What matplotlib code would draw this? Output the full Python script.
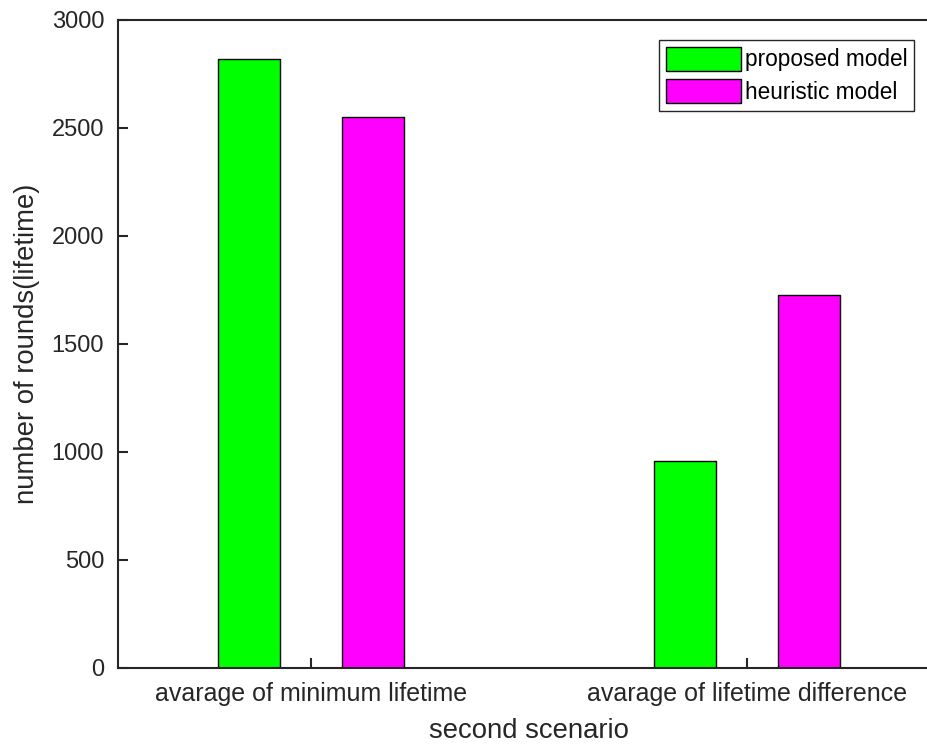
import numpy as np
import matplotlib
matplotlib.use("Agg")
import matplotlib.pyplot as plt

categories = ["avarage of minimum lifetime", "avarage of lifetime difference"]
series_names = ["proposed model", "heuristic model"]
proposed = [2820, 958]
heuristic = [2553, 1727]

plt.rcParams["font.family"] = ["Liberation Sans", "DejaVu Sans"]
ink = "#262626"

fig = plt.figure(figsize=(9.28, 7.49), dpi=100)
ax = fig.add_axes([118 / 928, 81 / 749, 822 / 928, 648 / 749])

x = np.arange(1, len(categories) + 1)
w = 0.1425
ax.bar(x - w, proposed, w, color="#00ff00", edgecolor="black", linewidth=1,
       label=series_names[0])
ax.bar(x + w, heuristic, w, color="#ff00ff", edgecolor="black", linewidth=1,
       label=series_names[1])

ax.set_xlim(0.557, 2.443)
ax.set_ylim(0, 3000)
ax.set_yticks(np.arange(0, 3001, 500))
ax.set_xticks(x)
ax.set_xticklabels(categories)

for s in ax.spines.values():
    s.set_color(ink)
    s.set_linewidth(1.5)
ax.tick_params(direction="in", length=7, width=1.5, color=ink,
               labelcolor=ink, labelsize=17, pad=10)
ax.tick_params(axis="x", labelsize=18, pad=10)

ax.set_xlabel("second scenario", fontsize=19.8, color=ink, labelpad=9)
ax.set_ylabel("number of rounds(lifetime)", fontsize=19.8, color=ink, labelpad=8)

leg = ax.legend(loc="upper left", bbox_to_anchor=(659 / 928, 1 - 40 / 749),
                bbox_transform=fig.transFigure, fontsize=16.3, fancybox=False,
                framealpha=1, edgecolor=ink, handlelength=3.3, handleheight=1.25,
                handletextpad=0.2, borderpad=0.3, labelspacing=0.35,
                borderaxespad=0)
leg.get_frame().set_linewidth(1)

fig.savefig("out.png", dpi=100)
